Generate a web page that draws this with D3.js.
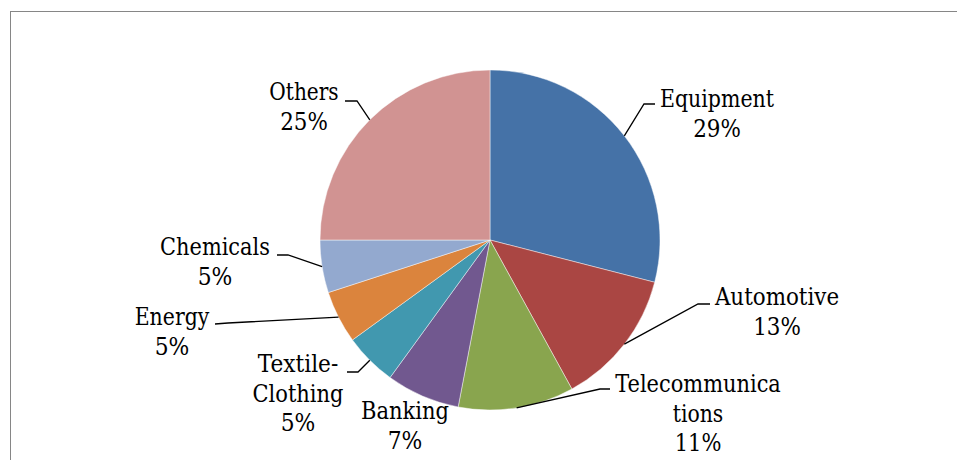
<!DOCTYPE html>
<html>
<head>
<meta charset="utf-8">
<style>
  body { margin: 0; background: #fff; }
  svg { display: block; }
</style>
</head>
<body>
<div id="chart"></div>
<script src="https://d3js.org/d3.v7.min.js" charset="utf-8"></script>
<script>

// data
var categories = ["Equipment", "Automotive", "Telecommunications", "Banking",
                  "Textile-Clothing", "Energy", "Chemicals", "Others"];
var shares = [29, 13, 11, 7, 5, 5, 5, 25];
var colors = ["#4572A7", "#AA4643", "#89A54E", "#71588F",
              "#4198AF", "#DB843D", "#93A9CF", "#D19392"];

// label text lines (category wrapped like the original)
var labelLines = [["Equipment"], ["Automotive"], ["Telecommunica", "tions"], ["Banking"],
                  ["Textile-", "Clothing"], ["Energy"], ["Chemicals"], ["Others"]];

// label layout: text centre x, first baseline y, leader elbow and end (null = no leader)
var labelLayout = [
  { x: 717, y: 107, elbow: [644, 104], end: [655, 104] },
  { x: 777, y: 305, elbow: [698, 304], end: [710, 304] },
  { x: 698, y: 392, elbow: [600, 389], end: [610, 389] },
  { x: 405, y: 419, elbow: null, end: null },
  { x: 298, y: 372, elbow: [358, 372], end: [347, 372] },
  { x: 172, y: 325, elbow: [228, 323], end: [215, 324] },
  { x: 215, y: 255, elbow: [288, 255], end: [277, 255] },
  { x: 304, y: 100, elbow: [357, 101], end: [345, 101] }
];

var width = 957, height = 460;
var cx = 490, cy = 240, radius = 170;
var fontSize = 26, lineH = 29.5;

var svg = d3.select("#chart").append("svg")
  .attr("width", width)
  .attr("height", height);

// chart frame (only top and left edges fall inside the window)
svg.append("rect")
  .attr("x", 10.5).attr("y", 11.5)
  .attr("width", 1000).attr("height", 500)
  .style("fill", "none")
  .style("stroke", "#868686")
  .style("stroke-width", 1);

var pie = d3.pie().sort(null).value(function(d) { return d; });
var arcs = pie(shares);
var arc = d3.arc().innerRadius(0).outerRadius(radius);

var g = svg.append("g").attr("transform", "translate(" + cx + "," + cy + ")");

g.selectAll("path.slice")
  .data(arcs)
  .enter().append("path")
  .attr("class", "slice")
  .attr("d", arc)
  .style("fill", function(d, i) { return colors[i]; })
  .style("stroke", "rgba(255,255,255,0.6)")
  .style("stroke-width", 0.75);

// leader lines from the slice mid point on the rim
arcs.forEach(function(d, i) {
  var lay = labelLayout[i];
  if (!lay.elbow) return;
  var mid = (d.startAngle + d.endAngle) / 2;
  var sx = cx + radius * Math.sin(mid);
  var sy = cy - radius * Math.cos(mid);
  svg.append("polyline")
    .attr("points", [[sx, sy], lay.elbow, lay.end].map(function(p) { return p.join(","); }).join(" "))
    .style("fill", "none")
    .style("stroke", "#000")
    .style("stroke-width", 1.3);
});

// labels: measure with Times metrics, draw in a serif squeezed to that width
arcs.forEach(function(d, i) {
  var lay = labelLayout[i];
  var lines = labelLines[i].concat([shares[i] + "%"]);
  lines.forEach(function(s, k) {
    var t = svg.append("text")
      .attr("x", lay.x)
      .attr("y", lay.y + k * lineH)
      .attr("font-size", fontSize)
      .attr("font-family", "Liberation Serif")
      .text(s);
    var w = t.node().getComputedTextLength();
    t.attr("x", lay.x - w / 2)
      .attr("font-family", "DejaVu Serif")
      .attr("font-size", 23.5)
      .attr("textLength", w)
      .attr("lengthAdjust", "spacingAndGlyphs");
  });
});

</script>
</body>
</html>
